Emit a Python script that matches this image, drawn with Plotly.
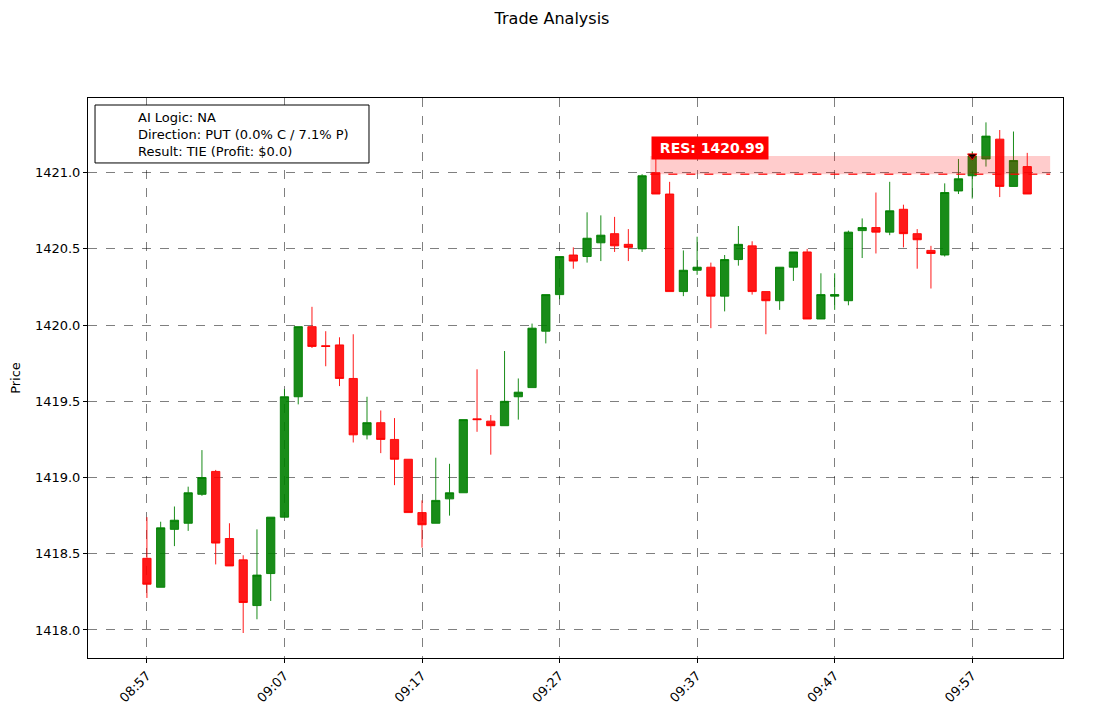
import pandas as pd
import plotly.graph_objects as go

# one-minute candles, 08:57 -> 10:01
start = "2024-01-01 08:57"
opens = [1418.47, 1418.28, 1418.66, 1418.70, 1418.89, 1419.04, 1418.60, 1418.46, 1418.16, 1418.37,
         1418.74, 1419.53, 1419.99, 1419.865, 1419.87, 1419.65, 1419.28, 1419.36, 1419.25, 1419.12,
         1418.77, 1418.70, 1418.86, 1418.90, 1419.385, 1419.37, 1419.34, 1419.53, 1419.59, 1419.96,
         1420.20, 1420.46, 1420.45, 1420.54, 1420.60, 1420.53, 1420.50, 1421.00, 1420.86, 1420.22,
         1420.36, 1420.38, 1420.19, 1420.43, 1420.52, 1420.22, 1420.16, 1420.38, 1420.48, 1420.04,
         1420.19, 1420.16, 1420.62, 1420.64, 1420.61, 1420.76, 1420.60, 1420.49, 1420.46, 1420.88,
         1420.98, 1421.09, 1421.22, 1420.91, 1421.04]
highs = [1418.74, 1418.71, 1418.81, 1418.94, 1419.18, 1419.05, 1418.70, 1418.49, 1418.66, 1418.74,
         1419.58, 1419.99, 1420.12, 1419.96, 1419.92, 1419.94, 1419.53, 1419.44, 1419.39, 1419.12,
         1418.85, 1419.13, 1419.09, 1419.38, 1419.71, 1419.41, 1419.83, 1419.65, 1420.01, 1420.20,
         1420.45, 1420.51, 1420.74, 1420.72, 1420.71, 1420.63, 1420.99, 1421.09, 1420.94, 1420.49,
         1420.58, 1420.41, 1420.46, 1420.65, 1420.55, 1420.22, 1420.38, 1420.48, 1420.50, 1420.34,
         1420.34, 1420.62, 1420.70, 1420.87, 1420.94, 1420.79, 1420.63, 1420.52, 1420.93, 1421.09,
         1421.14, 1421.33, 1421.28, 1421.27, 1421.13]
lows = [1418.21, 1418.28, 1418.55, 1418.65, 1418.88, 1418.43, 1418.42, 1417.98, 1418.07, 1418.19,
        1418.74, 1419.48, 1419.85, 1419.73, 1419.60, 1419.23, 1419.25, 1419.16, 1418.95, 1418.77,
        1418.54, 1418.70, 1418.75, 1418.90, 1419.30, 1419.15, 1419.34, 1419.38, 1419.59, 1419.88,
        1420.17, 1420.37, 1420.41, 1420.42, 1420.48, 1420.42, 1420.48, 1420.86, 1420.22, 1420.19,
        1420.33, 1419.98, 1420.09, 1420.39, 1420.20, 1419.94, 1420.10, 1420.29, 1420.04, 1420.04,
        1420.10, 1420.13, 1420.44, 1420.47, 1420.59, 1420.51, 1420.37, 1420.24, 1420.45, 1420.86,
        1420.83, 1421.04, 1420.84, 1420.91, 1420.86]
closes = [1418.30, 1418.67, 1418.72, 1418.90, 1419.00, 1418.57, 1418.42, 1418.18, 1418.36, 1418.74,
          1419.53, 1419.99, 1419.86, 1419.86, 1419.65, 1419.28, 1419.36, 1419.25, 1419.12, 1418.77,
          1418.69, 1418.85, 1418.90, 1419.38, 1419.38, 1419.34, 1419.50, 1419.56, 1419.98, 1420.20,
          1420.45, 1420.42, 1420.57, 1420.59, 1420.52, 1420.51, 1420.98, 1420.86, 1420.22, 1420.36,
          1420.38, 1420.19, 1420.43, 1420.53, 1420.22, 1420.16, 1420.38, 1420.48, 1420.04, 1420.20,
          1420.20, 1420.61, 1420.64, 1420.61, 1420.75, 1420.60, 1420.56, 1420.47, 1420.87, 1420.96,
          1421.11, 1421.24, 1420.91, 1421.08, 1420.86]

res_level = 1420.99
zone_top = 1421.11
entry_idx = 60
entry_price = 1421.11
info_lines = ["AI Logic: NA", "Direction: PUT (0.0% C / 7.1% P)", "Result: TIE (Profit: $0.0)"]

times = pd.date_range(start, periods=len(opens), freq="min")
sec = pd.Timedelta(seconds=1)
zone_x0 = times[37] - 24 * sec
zone_x1 = times[-1] + 100 * sec

GREEN = "rgba(0,128,0,0.9)"
RED = "rgba(255,0,0,0.9)"

fig = go.Figure()
fig.add_trace(go.Candlestick(
    x=times, open=opens, high=highs, low=lows, close=closes,
    increasing=dict(line=dict(color=GREEN, width=1), fillcolor=GREEN),
    decreasing=dict(line=dict(color=RED, width=1), fillcolor=RED),
    whiskerwidth=0, showlegend=False,
))
fig.add_trace(go.Scatter(
    x=[times[entry_idx]], y=[entry_price], mode="markers", showlegend=False,
    marker=dict(symbol="triangle-down", size=8, color="black", line=dict(color="red", width=1)),
))

# resistance zone drawn over the candles
fig.add_shape(type="rect", x0=zone_x0, x1=zone_x1, y0=res_level, y1=zone_top,
              fillcolor="rgba(255,0,0,0.2)", line_width=0, layer="above")
fig.add_shape(type="line", x0=zone_x0, x1=zone_x1, y0=res_level, y1=res_level,
              line=dict(color="rgba(255,0,0,0.8)", width=1.5, dash="dash"), layer="above")
fig.add_annotation(x=zone_x0, y=1421.16, xanchor="left", yanchor="middle", xshift=1,
                   text="<b>&nbsp;RES: %.2f</b>" % res_level, showarrow=False,
                   font=dict(color="white", size=14), bgcolor="red", borderpad=3)

# info box top-left
fig.add_shape(type="rect", xref="paper", yref="paper", x0=0.0072, x1=0.2882, y0=0.884, y1=0.9875,
              line=dict(color="black", width=1), fillcolor="white", layer="above")
fig.add_annotation(xref="paper", yref="paper", x=0.0492, y=0.9357, xanchor="left", yanchor="middle",
                   text="<br>".join(info_lines), align="left", showarrow=False,
                   font=dict(size=13, color="black"))

axis_common = dict(showline=True, linecolor="black", linewidth=1, mirror=True,
                   ticks="outside", ticklen=4, tickcolor="black", automargin=False,
                   showgrid=True, gridcolor="rgba(0,0,0,0.5)", griddash="dash", gridwidth=1,
                   zeroline=False, tickfont=dict(size=13, color="black"))

# page body has an 8px margin, so the figure is a bit smaller than the window
fig.update_layout(
    width=1097, height=708,
    margin=dict(l=80, r=42, t=90, b=58),
    paper_bgcolor="white", plot_bgcolor="white",
    font=dict(family="DejaVu Sans", color="black"),
    title=dict(text="Trade Analysis", x=0.4959, xref="container", y=0.986, yanchor="middle",
               font=dict(size=16, color="black")),
    boxgap=0.4, boxgroupgap=0,
    xaxis=dict(axis_common, type="date", rangeslider=dict(visible=False),
               range=[times[0] - 257 * sec, times[0] + 3996 * sec],
               tick0=times[0], dtick=600000, tickformat="%H:%M", tickangle=-45),
    yaxis=dict(axis_common, range=[1417.816, 1421.49], dtick=0.5, tickformat=".1f",
               title=dict(text="Price", font=dict(size=13), standoff=12)),
)

fig.write_html("out.html")
